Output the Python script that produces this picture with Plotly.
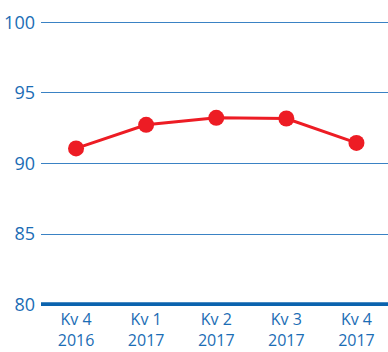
import plotly.graph_objects as go

# Quarterly index values
quarters = ["Kv 4<br>2016", "Kv 1<br>2017", "Kv 2<br>2017", "Kv 3<br>2017", "Kv 4<br>2017"]
index_values = [91.07, 92.74, 93.24, 93.19, 91.46]
y_ticks = [80, 85, 90, 95, 100]

blue_text = "#1b6db5"
grid_blue = "#3a82c4"
base_blue = "#0b63ae"
red = "#ed1c24"
font_family = "Open Sans, sans-serif"

fig = go.Figure()
fig.add_trace(go.Scatter(
    x=list(range(len(quarters))),
    y=index_values,
    mode="lines+markers",
    line=dict(color=red, width=3),
    marker=dict(color=red, size=16),
    cliponaxis=False,
    showlegend=False,
))

# heavy baseline at the bottom of the value axis
fig.add_shape(type="line", xref="paper", yref="y", x0=0, x1=1, y0=80, y1=80,
              line=dict(color=base_blue, width=4.5), layer="above")

fig.update_layout(
    width=388, height=352,
    margin=dict(l=41, r=0, t=21, b=46),
    paper_bgcolor="white", plot_bgcolor="white",
    font=dict(family=font_family, size=16, color=blue_text),
    xaxis=dict(
        range=[-0.5, 4.45],
        tickvals=list(range(len(quarters))),
        ticktext=quarters,
        showgrid=False, zeroline=False, showline=False,
        ticks="", ticklabelstandoff=2,
        automargin=False,
        fixedrange=True,
    ),
    yaxis=dict(
        range=[79.9, 100.1],
        tickvals=y_ticks,
        showgrid=True, gridcolor=grid_blue, gridwidth=1,
        zeroline=False, showline=False,
        ticks="", ticklabelstandoff=5,
        tickfont=dict(size=18),
        automargin=False,
        fixedrange=True,
    ),
)

fig.write_html("out.html")
